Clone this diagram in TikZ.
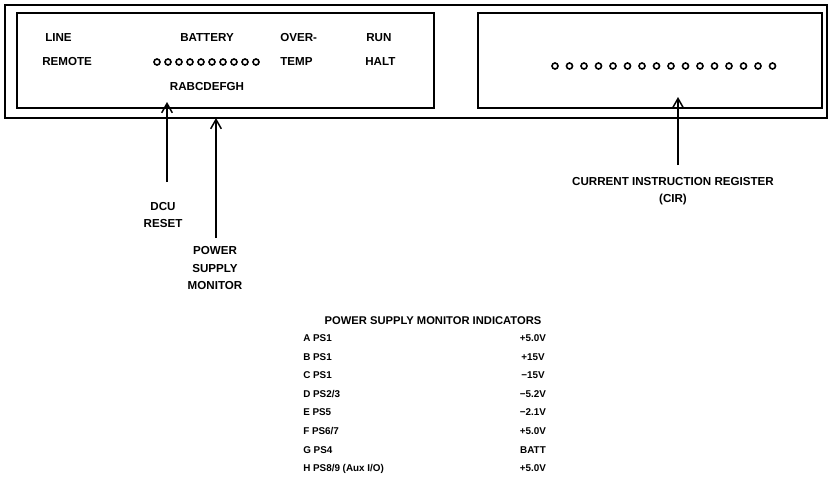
\documentclass[tikz,border=0pt]{standalone}
\usepackage{fontspec}
\setsansfont{Liberation Sans}
\usetikzlibrary{arrows.meta, positioning, calc}

\begin{document}
\begin{tikzpicture}[>={Straight Barb[length=7pt,width=8pt]}, x=0.75pt, y=-0.75pt,
    lbl/.style={font=\sffamily\bfseries\fontsize{8.7}{9}\selectfont, inner sep=0pt},
    tbl/.style={font=\sffamily\bfseries\fontsize{7.4}{8}\selectfont, inner sep=0pt},
    led/.style={draw, line width=1.2pt, circle, minimum size=4.5pt, inner sep=0pt},
    pointer/.style={->, line width=1.1pt}]
        \useasboundingbox (0,0) rectangle (831,486);
        % Panel frame
        \draw[line width=1.3pt] (5,5) rectangle (827,118);
        \draw[line width=1.2pt] (17,13) rectangle (434,108);
        \draw[line width=1.2pt] (478,13) rectangle (822,108);
        % Left panel labels
        \node[lbl, anchor=west] (line) at (45,38) {LINE};
        \node[lbl, anchor=west] (remote) at (42,62) {REMOTE};
        \node[lbl] (battery) at (207,38) {BATTERY};
        \node[lbl] (letters) at (207,87) {RABCDEFGH};
        \node[lbl, anchor=west] (over) at (280,38) {OVER-};
        \node[lbl, anchor=west] (temp) at (280,62) {TEMP};
        \node[lbl, anchor=west] (run) at (366,38) {RUN};
        \node[lbl, anchor=west] (halt) at (365,62) {HALT};
        \foreach \i in {0,...,9} {
            \node[led] (bat\i) at (157+11*\i,62) {};
        }
        % Right panel indicators
        \foreach \i in {0,...,15} {
            \node[led] (cir\i) at (555+14.5*\i,66) {};
        }
        % Callouts
        \node[lbl, align=center] (dcu) at (163,215) {DCU\\[4pt]RESET};
        \node[lbl, align=center] (psm) at (215,268) {POWER\\[4pt]SUPPLY\\[4pt]MONITOR};
        \node[lbl, align=center] (cirlbl) at (673,191) {CURRENT INSTRUCTION REGISTER\\[4pt](CIR)};
        \coordinate (dcutail) at (167,182);
        \coordinate (dcutip) at (167,102);
        \coordinate (psmtail) at (216,238);
        \coordinate (psmtip) at (216,118);
        \coordinate (cirtail) at (678,165);
        \coordinate (cirtip) at (678,97);
        \draw[pointer] (dcutail) -- (dcutip);
        \draw[pointer] (psmtail) -- (psmtip);
        \draw[pointer] (cirtail) -- (cirtip);
        % Indicator table
        \node[tbl, font=\sffamily\bfseries\fontsize{8.4}{9}\selectfont] (head) at (433,321) {POWER SUPPLY MONITOR INDICATORS};
        \foreach \tag/\val [count=\n from 0] in {{A PS1}/{+5.0V}, {B PS1}/{+15V},
            {C PS1}/{−15V}, {D PS2/3}/{−5.2V}, {E PS5}/{−2.1V}, {F PS6/7}/{+5.0V},
            {G PS4}/{BATT}, {H PS8/9 (Aux I/O)}/{+5.0V}} {
            \node[tbl, anchor=base west] (row\n) at (303,341.5+18.6*\n) {\tag};
            \node[tbl, anchor=base] (val\n) at (533,341.5+18.6*\n) {\val};
        }
    \end{tikzpicture}
\end{document}
